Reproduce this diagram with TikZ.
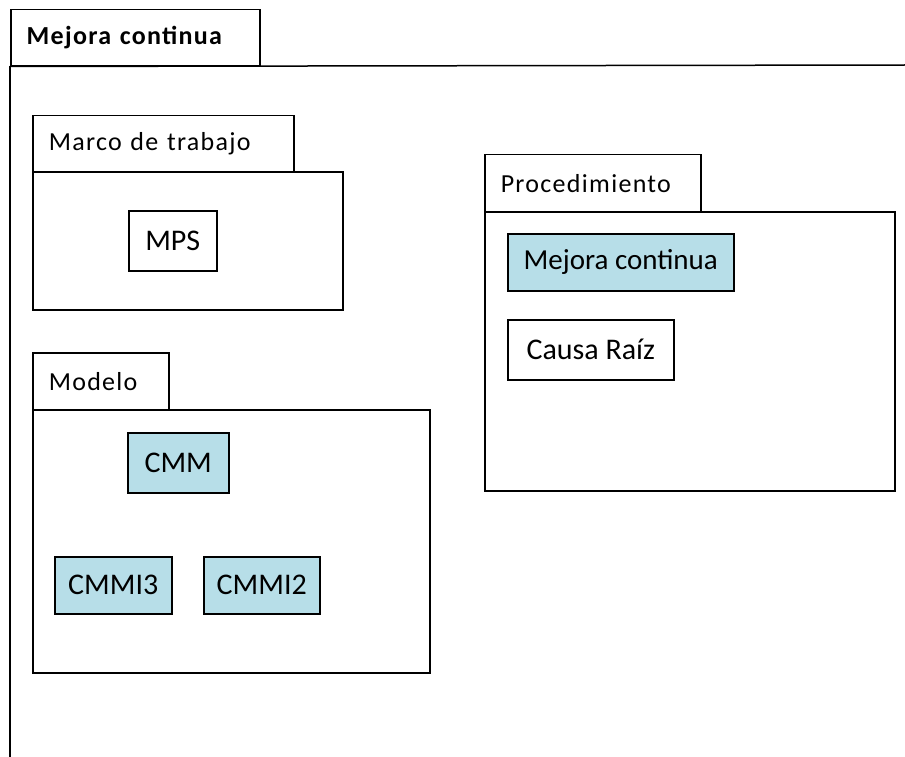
\documentclass[tikz,border=0pt]{standalone}
\usepackage{fontspec}
\setmainfont{Carlito}
\newfontfamily\tabfont[LetterSpace=5]{Carlito}
\definecolor{boxblue}{HTML}{B7DEE8}
\begin{document}
\begin{tikzpicture}[x=1pt,y=-1pt,
  frameline/.style={line width=1.5pt, draw=black},
  tabbox/.style={frameline, rectangle, anchor=north west, inner sep=0pt, inner xsep=16pt,
    font=\tabfont\fontsize{26}{30}\selectfont, align=left},
  pkgbody/.style={frameline, rectangle, anchor=north west, inner sep=0pt},
  item/.style={frameline, rectangle, anchor=north west, inner sep=0pt,
    font=\fontsize{30}{34}\selectfont},
  blueitem/.style={item, fill=boxblue}]
\useasboundingbox (0,0) rectangle (905,757);
% outer frame
\node[tabbox, font=\tabfont\bfseries\fontsize{26}{30}\selectfont, minimum width=249pt, minimum height=56pt, text width=217pt] (title) at (10,9) {Mejora continua};
\coordinate (frameright) at (905,65);
\coordinate (framebottom) at (10,757);
\draw[frameline] (title.south west) -- (frameright);
\draw[frameline] (title.south west) -- (framebottom);
% Marco de trabajo
\node[tabbox, minimum width=261pt, minimum height=56pt, text width=229pt] (marcotab) at (32,115) {Marco de trabajo};
\node[pkgbody, minimum width=310pt, minimum height=138pt] (marco) at (32,171) {};
\node[item, minimum width=88pt, minimum height=60pt] (mps) at (128,210) {MPS};
% Procedimiento
\node[tabbox, minimum width=216pt, minimum height=57pt, text width=184pt] (proctab) at (484,154) {Procedimiento};
\node[pkgbody, minimum width=410pt, minimum height=279pt] (proc) at (484,211) {};
\node[blueitem, minimum width=226pt, minimum height=57pt, font=\fontsize{29}{33}\selectfont] (mejora) at (507,233) {Mejora continua};
\node[item, minimum width=166pt, minimum height=60pt] (causa) at (507,319) {Causa Raíz};
% Modelo
\node[tabbox, minimum width=136pt, minimum height=57pt, text width=104pt] (modelotab) at (32,352) {Modelo};
\node[pkgbody, minimum width=397pt, minimum height=263pt] (modelo) at (32,409) {};
\node[blueitem, minimum width=101pt, minimum height=60pt] (cmm) at (127,432) {CMM};
\node[blueitem, minimum width=117pt, minimum height=57pt] (cmmi3) at (54,556) {CMMI3};
\node[blueitem, minimum width=116pt, minimum height=57pt] (cmmi2) at (203,556) {CMMI2};
\end{tikzpicture}
\end{document}
